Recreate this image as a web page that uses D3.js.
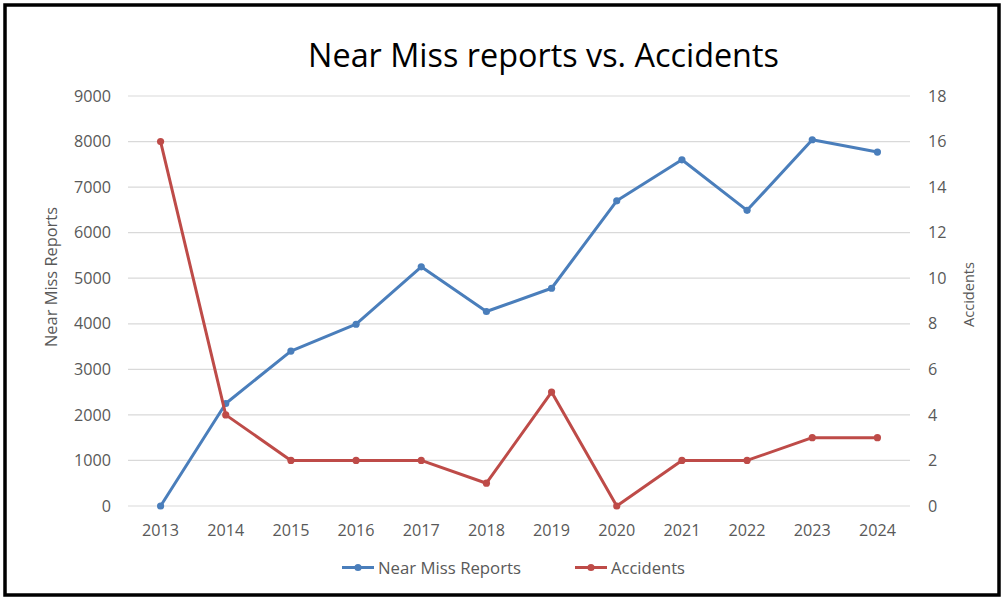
<!DOCTYPE html>
<html>
<head>
<meta charset="utf-8">
<script src="https://cdn.jsdelivr.net/npm/d3@7"></script>
<style>
html,body{margin:0;padding:0;background:#fff;}
svg{display:block;font-family:"Open Sans",sans-serif;}
</style>
</head>
<body>
<svg id="chart" width="1004" height="599"></svg>
<script>
const years = ["2013","2014","2015","2016","2017","2018","2019","2020","2021","2022","2023","2024"];
const nearMiss = [0,2250,3400,3990,5250,4270,4780,6700,7600,6490,8040,7770];
const accidents = [16,4,2,2,2,1,5,0,2,2,3,3];
const leftTicks = [0,1000,2000,3000,4000,5000,6000,7000,8000,9000];
const rightTicks = [0,2,4,6,8,10,12,14,16,18];
const titleText = "Near Miss reports vs. Accidents";
const leftTitle = "Near Miss Reports";
const rightTitle = "Accidents";
const seriesNames = ["Near Miss Reports","Accidents"];
const colors = ["#4A7EBB","#BE4B48"];

const svg = d3.select("#chart");
const textColor = "#595959";

// fit font-size so text gets target width
function fit(sel, target){
  const w = sel.node().getComputedTextLength();
  const fs = parseFloat(sel.attr("font-size"));
  sel.attr("font-size", (fs*target/w).toFixed(2));
}

// border
svg.append("rect").attr("x",5).attr("y",5).attr("width",994).attr("height",590)
  .attr("fill","#fff").attr("stroke","#000").attr("stroke-width",3.5);

const x = d3.scaleBand().domain(years).range([128,910]);
const yL = d3.scaleLinear().domain([0,9000]).range([506,96]);
const yR = d3.scaleLinear().domain([0,18]).range([506,96]);

// gridlines
svg.append("g").selectAll("line").data(leftTicks).join("line")
  .attr("x1",128).attr("x2",910)
  .attr("y1",d=>yL(d)).attr("y2",d=>yL(d))
  .attr("stroke","#d9d9d9").attr("stroke-width",1.2);

// measure font size for ticks
const probe = svg.append("text").attr("font-size",16).text("9000");
fit(probe, 37);
const tickFs = +probe.attr("font-size");
probe.remove();

// left axis
const gL = svg.append("g").attr("transform","translate(128,0)")
  .call(d3.axisLeft(yL).tickValues(leftTicks).tickSize(0).tickPadding(17).tickFormat(d3.format("d")));
gL.select(".domain").remove();
gL.selectAll("text").attr("font-size",tickFs).attr("fill",textColor).attr("font-family","'Open Sans',sans-serif");

// right axis
const gR = svg.append("g").attr("transform","translate(910,0)")
  .call(d3.axisRight(yR).tickValues(rightTicks).tickSize(0).tickPadding(18).tickFormat(d3.format("d")));
gR.select(".domain").remove();
gR.selectAll("text").attr("font-size",tickFs).attr("fill",textColor).attr("font-family","'Open Sans',sans-serif");

// bottom axis
const gB = svg.append("g").attr("transform","translate(0,506)")
  .call(d3.axisBottom(x).tickSize(0));
gB.select(".domain").remove();
gB.selectAll("text").attr("font-size",tickFs).attr("fill",textColor).attr("font-family","'Open Sans',sans-serif")
  .attr("y",30).attr("dy",null);

// lines
const line = (yS)=>d3.line().x((d,i)=>x(years[i])+x.bandwidth()/2).y(d=>yS(d));
const series = [{vals:nearMiss, y:yL, c:colors[0]},{vals:accidents, y:yR, c:colors[1]}];
series.forEach(s=>{
  svg.append("path").datum(s.vals).attr("d",line(s.y)).attr("fill","none")
    .attr("stroke",s.c).attr("stroke-width",3).attr("stroke-linejoin","round").attr("stroke-linecap","round");
  svg.append("g").selectAll("circle").data(s.vals).join("circle")
    .attr("cx",(d,i)=>x(years[i])+x.bandwidth()/2).attr("cy",d=>s.y(d)).attr("r",3.6)
    .attr("fill",s.c);
});

// title
const t = svg.append("text").attr("x",543.5).attr("y",66.5).attr("text-anchor","middle")
  .attr("font-size",30).attr("fill","#000").text(titleText);
fit(t, 471);

// axis titles
const lt = svg.append("text").attr("transform","translate(57,277) rotate(-90)")
  .attr("text-anchor","middle").attr("font-size",16).attr("fill",textColor).text(leftTitle);
fit(lt, 140);
const rt = svg.append("text").attr("transform","translate(974,294.5) rotate(-90)")
  .attr("text-anchor","middle").attr("font-size",16).attr("fill",textColor).text(rightTitle);
fit(rt, 65);

// legend
const legX = [342,575];
const legend = svg.append("g");
seriesNames.forEach((n,i)=>{
  const g = legend.append("g").attr("transform",`translate(${legX[i]},567.5)`);
  g.append("line").attr("x1",0).attr("x2",32).attr("stroke",colors[i]).attr("stroke-width",3);
  g.append("circle").attr("cx",16).attr("r",3.6).attr("fill",colors[i]);
  const tx = g.append("text").attr("x",36).attr("y",6.5).attr("font-size",16).attr("fill",textColor).text(n);
  fit(tx, i===0?143:74);
});
</script>
</body>
</html>
